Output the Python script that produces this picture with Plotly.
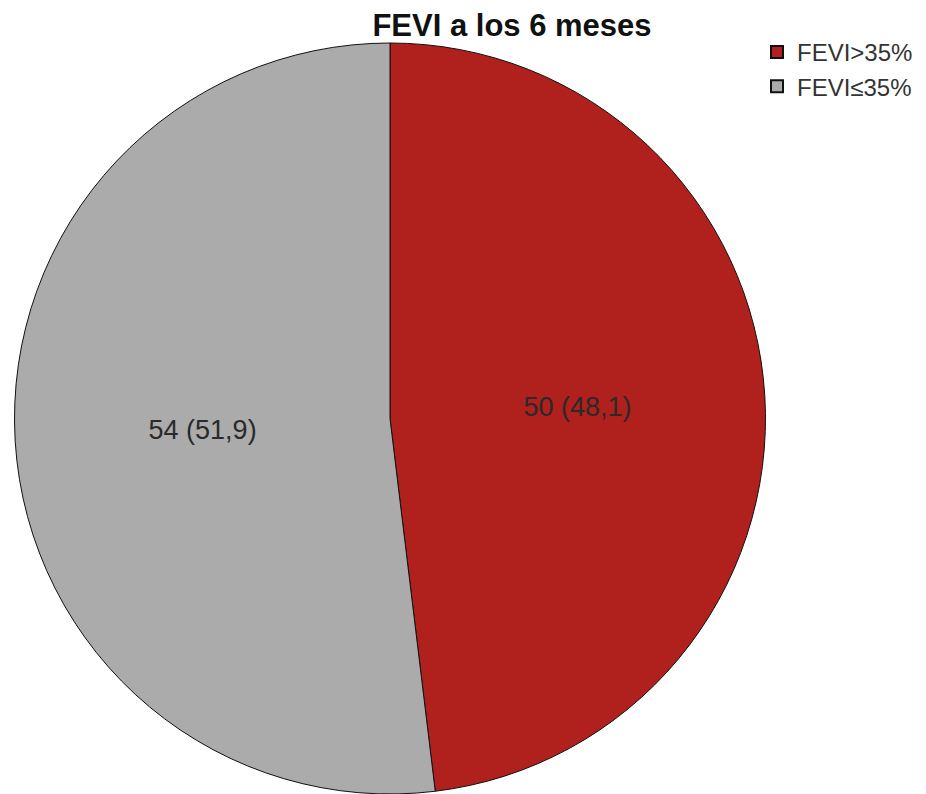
import plotly.graph_objects as go

labels = ["FEVI>35%", "FEVI≤35%"]
values = [50, 54]
colors = ["#B0201C", "#ABABAB"]
title = "FEVI a los 6 meses"

total = sum(values)
pct_text = [f"{v / total * 100:.1f}".replace(".", ",") for v in values]

W, H = 926, 794

fig = go.Figure(go.Pie(
    labels=labels,
    values=values,
    customdata=pct_text,
    texttemplate="%{value} (%{customdata})",
    textposition="inside",
    insidetextorientation="horizontal",
    textfont=dict(family="Liberation Sans, Arial", size=27, color="#2a2a2a"),
    marker=dict(colors=colors, line=dict(color="#111111", width=1)),
    sort=False,
    direction="clockwise",
    rotation=0,
    hoverinfo="label+value+percent",
    domain=dict(x=[13 / W, 767 / W], y=[0, 1]),
))

fig.update_layout(
    width=W,
    height=H,
    margin=dict(l=0, r=0, t=43, b=0),
    paper_bgcolor="white",
    plot_bgcolor="white",
    title=dict(
        text=f"<b>{title}</b>",
        x=512 / W,
        xanchor="center",
        y=1 - 25 / H,
        yanchor="middle",
        font=dict(family="Liberation Sans, Arial", size=31, color="#111111"),
    ),
    legend=dict(
        x=757 / W,
        xanchor="left",
        y=1 + 13 / 751,
        yanchor="top",
        font=dict(family="Liberation Sans, Arial", size=24, color="#333333"),
        itemsizing="constant",
        tracegroupgap=0,
        bgcolor="rgba(0,0,0,0)",
    ),
    showlegend=True,
)

fig.write_html("out.html")
